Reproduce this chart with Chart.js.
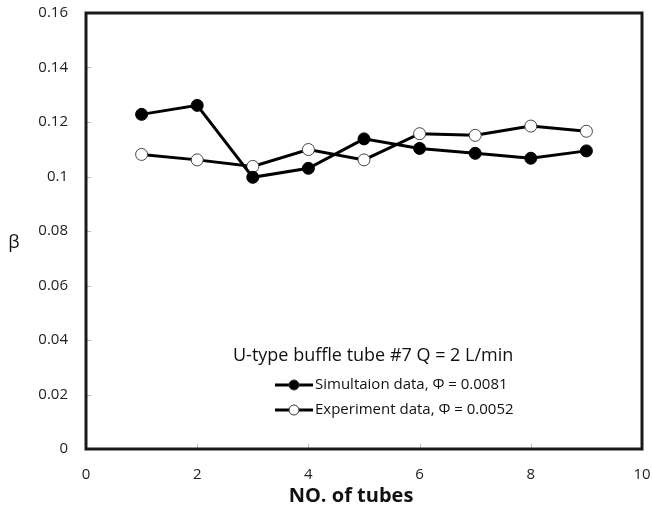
<!DOCTYPE html>
<html>
<head>
<meta charset="utf-8">
<script src="https://cdn.jsdelivr.net/npm/chart.js@4"></script>
<style>
  html, body { margin: 0; padding: 0; background: #fff; }
  #wrap { width: 652px; height: 511px; }
</style>
</head>
<body>
<div id="wrap"><canvas id="betaChart" width="652" height="511"></canvas></div>
<script>
const tubes = [1, 2, 3, 4, 5, 6, 7, 8, 9];
const simData = [0.1228, 0.1261, 0.0997, 0.1030, 0.1138, 0.1103, 0.1085, 0.1067, 0.1094];
const expData = [0.1081, 0.1061, 0.1037, 0.1099, 0.1061, 0.1157, 0.1151, 0.1185, 0.1166];
const xTicks = [0, 2, 4, 6, 8, 10];
const yTicks = [0, 0.02, 0.04, 0.06, 0.08, 0.1, 0.12, 0.14, 0.16];
const legendTitle = "U-type buffle tube #7 Q = 2 L/min";
const seriesNames = ["Simultaion data, \u03A6 = 0.0081", "Experiment data, \u03A6 = 0.0052"];

const toPoints = (vals) => vals.map((v, i) => ({ x: tubes[i], y: v }));

// frame + inner tick marks + axis titles + legend inside plot
const framePlugin = {
  id: "framePlugin",
  afterDraw(chart) {
    const { ctx, chartArea: a, scales } = chart;
    ctx.save();
    // small inner ticks
    ctx.strokeStyle = "#bbb";
    ctx.lineWidth = 1;
    xTicks.forEach((t) => {
      const px = Math.round(scales.x.getPixelForValue(t)) + 0.5;
      ctx.beginPath();
      ctx.moveTo(px, a.bottom);
      ctx.lineTo(px, a.bottom - 5);
      ctx.stroke();
    });
    yTicks.forEach((t) => {
      const py = Math.round(scales.y.getPixelForValue(t)) + 0.5;
      ctx.beginPath();
      ctx.moveTo(a.left, py);
      ctx.lineTo(a.left + 5, py);
      ctx.stroke();
    });
    // border
    ctx.strokeStyle = "#1a1a1a";
    ctx.lineWidth = 3;
    ctx.strokeRect(a.left, a.top, a.right - a.left, a.bottom - a.top);

    // axis titles
    ctx.fillStyle = "#111";
    ctx.textAlign = "center";
    ctx.textBaseline = "middle";
    ctx.font = "18px 'Open Sans', sans-serif";
    ctx.fillText("\u03B2", 14, 243);
    ctx.font = "bold 20px 'Open Sans', sans-serif";
    ctx.fillText("NO. of tubes", 351, 496);

    // legend
    ctx.textAlign = "left";
    ctx.font = "18px 'Open Sans', sans-serif";
    ctx.fillText(legendTitle, 233, 356);
    ctx.font = "15px 'Open Sans', sans-serif";
    const rows = [
      { y: 385, fill: "#000" },
      { y: 410, fill: "#fff" },
    ];
    rows.forEach((r, i) => {
      ctx.strokeStyle = "#000";
      ctx.lineWidth = 3;
      ctx.beginPath();
      ctx.moveTo(275, r.y);
      ctx.lineTo(313, r.y);
      ctx.stroke();
      ctx.beginPath();
      ctx.arc(294, r.y, 5, 0, Math.PI * 2);
      ctx.fillStyle = r.fill;
      ctx.fill();
      ctx.lineWidth = 1;
      ctx.strokeStyle = "#333";
      ctx.stroke();
      ctx.fillStyle = "#111";
      ctx.fillText(seriesNames[i], 315, r.y);
    });
    ctx.restore();
  },
};

const chart = new Chart(document.getElementById("betaChart").getContext("2d"), {
  type: "line",
  data: {
    datasets: [
      {
        label: seriesNames[0],
        data: toPoints(simData),
        borderColor: "#000",
        borderWidth: 3,
        pointRadius: 6,
        pointBackgroundColor: "#000",
        pointBorderColor: "#000",
        pointBorderWidth: 1,
        tension: 0,
      },
      {
        label: seriesNames[1],
        data: toPoints(expData),
        borderColor: "#000",
        borderWidth: 3,
        pointRadius: 6,
        pointBackgroundColor: "#fff",
        pointBorderColor: "#444",
        pointBorderWidth: 1,
        tension: 0,
      },
    ],
  },
  options: {
    responsive: false,
    animation: false,
    layout: { padding: { top: 13, right: 10, left: 0, bottom: 0 } },
    plugins: {
      legend: { display: false },
      tooltip: { enabled: false },
    },
    scales: {
      x: {
        type: "linear",
        min: 0,
        max: 10,
        afterBuildTicks: (s) => { s.ticks = xTicks.map((v) => ({ value: v })); },
        afterFit: (s) => {
          s.height = 62;
          s.paddingLeft = 0;
          s.paddingRight = 0;
        },
        grid: { display: false },
        border: { display: false },
        ticks: {
          color: "#222",
          font: { family: "'Open Sans', sans-serif", size: 15 },
          padding: 9,
        },
        title: { display: false },
      },
      y: {
        type: "linear",
        min: 0,
        max: 0.16,
        afterBuildTicks: (s) => { s.ticks = yTicks.map((v) => ({ value: v })); },
        afterFit: (s) => {
          s.width = 86;
          s.paddingTop = 0;
          s.paddingBottom = 0;
        },
        grid: { display: false },
        border: { display: false },
        ticks: {
          color: "#222",
          font: { family: "'Open Sans', sans-serif", size: 15 },
          padding: 10,
          callback: (v) => String(Math.round(v * 100) / 100),
        },
        title: { display: false },
      },
    },
  },
  plugins: [framePlugin],
});
</script>
</body>
</html>
